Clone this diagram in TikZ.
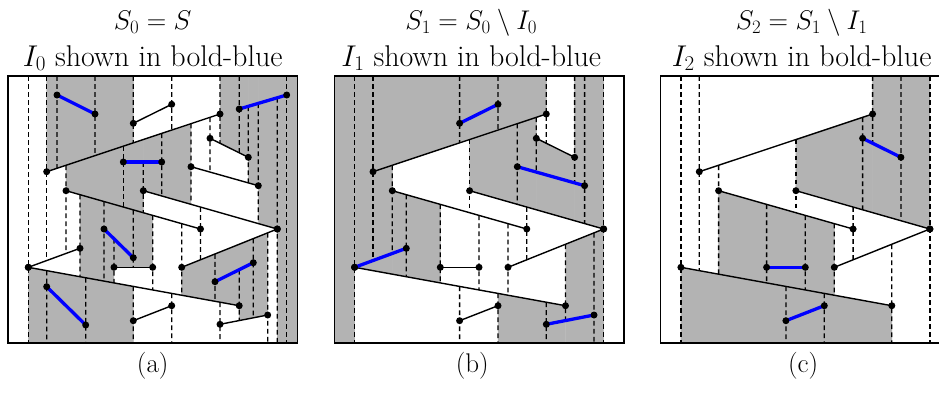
\RequirePackage{fix-cm}
\documentclass[tikz,border=0pt]{standalone}
\definecolor{shadegray}{RGB}{179,179,179}
\definecolor{segblue}{RGB}{0,0,255}
\tikzset{
 segline/.style={line width=1.4pt, black},
 blueline/.style={line width=3.3pt, segblue},
 wallline/.style={line width=1.3pt, black, dash pattern=on 4.8pt off 3.2pt},
 boxline/.style={line width=1.6pt, black},
 shadefill/.style={fill=shadegray, draw=shadegray, line width=0.4pt},
 lbl/.style={font=\fontsize{27}{32}\selectfont, anchor=base, inner sep=0pt},
 lblwide/.style={font=\fontsize{30}{36}\selectfont, anchor=base, inner sep=0pt},
}
\newcommand\defpts[1]{%
 \coordinate (#1A1l) at (57,95);      \coordinate (#1A1r) at (95,114);
 \coordinate (#1A2l) at (133.3,123.3); \coordinate (#1A2r) at (171.7,104.3);
 \coordinate (#1A3l) at (239.2,109);   \coordinate (#1A3r) at (286.7,95);
 \coordinate (#1A4l) at (46.7,171.7);  \coordinate (#1A4r) at (220,114);
 \coordinate (#1A5l) at (123.3,162);   \coordinate (#1A5r) at (161.7,162);
 \coordinate (#1A6l) at (210,138.3);   \coordinate (#1A6r) at (248.3,157.3);
 \coordinate (#1A7l) at (191,166.7);   \coordinate (#1A7r) at (258.3,185.7);
 \coordinate (#1A8l) at (66,190.7);    \coordinate (#1A8r) at (200.5,229);
 \coordinate (#1A9l) at (143.3,190.7); \coordinate (#1A9r) at (277.3,229);
 \coordinate (#1A10l) at (104,229);    \coordinate (#1A10r) at (133.3,257.7);
 \coordinate (#1A11l) at (114,267.3);  \coordinate (#1A11r) at (152.7,267.3);
 \coordinate (#1A12l) at (28.3,267.3); \coordinate (#1A12r) at (80,248.3);
 \coordinate (#1A13l) at (28.3,267.3); \coordinate (#1A13r) at (239.2,305.7);
 \coordinate (#1A14l) at (181.7,267.3); \coordinate (#1A14r) at (277.3,229);
 \coordinate (#1A15l) at (215,281.7);  \coordinate (#1A15r) at (253.3,262.7);
 \coordinate (#1A16l) at (46.7,286.7); \coordinate (#1A16r) at (85.7,325);
 \coordinate (#1A17l) at (133.3,320.7); \coordinate (#1A17r) at (171.7,305.7);
 \coordinate (#1A18l) at (220,324.3);  \coordinate (#1A18r) at (267.7,315);
 \coordinate (#1Tl) at (0,76);  \coordinate (#1Tr) at (300,76);
 \coordinate (#1Bl) at (0,343); \coordinate (#1Br) at (300,343);
}
\newcommand\trap[5]{%
 \fill[shadefill] (intersection of #1#4l--#1#4r and #2,0--#2,1)
  -- (intersection of #1#4l--#1#4r and #3,0--#3,1)
  -- (intersection of #1#5l--#1#5r and #3,0--#3,1)
  -- (intersection of #1#5l--#1#5r and #2,0--#2,1) -- cycle;}
\newcommand\wall[4]{%
 \draw[wallline] (intersection of #1#3l--#1#3r and #2,0--#2,1)
  -- (intersection of #1#4l--#1#4r and #2,0--#2,1);}
\newcommand\seg[2]{\draw[segline] (#1#2l) -- (#1#2r);
 \fill (#1#2l) circle (3.5) (#1#2r) circle (3.5);}
\newcommand\bseg[2]{\draw[blueline] (#1#2l) -- (#1#2r);
 \fill (#1#2l) circle (3.5) (#1#2r) circle (3.5);}
\begin{document}
\begin{tikzpicture}[x=1pt,y=-1pt]
\useasboundingbox (0,0) rectangle (939,394);
% ---------------- panel (a)
\begin{scope}
\defpts{a}
\trap{a}{46.7}{133.3}{T}{A4}
\trap{a}{220}{248.3}{T}{A6}
\trap{a}{248.3}{258.3}{T}{A7}
\trap{a}{258.3}{277.3}{T}{A9}
\trap{a}{277.3}{297.5}{T}{B}
\trap{a}{66}{143.3}{A4}{A8}
\trap{a}{143.3}{191}{A4}{A9}
\trap{a}{80}{114}{A8}{A13}
\trap{a}{114}{152.7}{A8}{A11}
\trap{a}{181.7}{239.2}{A14}{A13}
\trap{a}{239.2}{267.7}{A14}{A18}
\trap{a}{28.3}{133.3}{A13}{B}
\wall{a}{28.3}{T}{B}
\wall{a}{46.7}{T}{A12} \wall{a}{46.7}{A13}{B}
\wall{a}{57}{T}{A4}
\wall{a}{66}{A4}{A12}
\wall{a}{80}{A8}{A13}
\wall{a}{85.7}{A13}{B}
\wall{a}{95}{T}{A4}
\wall{a}{104}{A8}{A13}
\wall{a}{114}{A10}{A13}
\wall{a}{123.3}{A4}{A8}
\wall{a}{133.3}{T}{A4} \wall{a}{133.3}{A8}{A11} \wall{a}{133.3}{A13}{B}
\wall{a}{143.3}{A5}{A8}
\wall{a}{152.7}{A8}{A13}
\wall{a}{161.7}{A4}{A9}
\wall{a}{171.7}{T}{A4} \wall{a}{171.7}{A13}{B}
\wall{a}{181.7}{A8}{A13}
\wall{a}{191}{A4}{A9}
\wall{a}{200.5}{A9}{A14}
\wall{a}{210}{A4}{A7}
\wall{a}{215}{A14}{A13}
\wall{a}{220}{T}{A6} \wall{a}{220}{A13}{B}
\wall{a}{239.2}{T}{A6} \wall{a}{239.2}{A15}{A18}
\wall{a}{248.3}{A3}{A7}
\wall{a}{253.3}{A14}{A18}
\wall{a}{258.3}{A3}{A9}
\wall{a}{267.7}{A14}{B}
\wall{a}{277.3}{A3}{B}
\wall{a}{286.7}{T}{B}
\seg{a}{A2} \seg{a}{A4} \seg{a}{A6} \seg{a}{A7} \seg{a}{A8} \seg{a}{A9}
\seg{a}{A11} \seg{a}{A12} \seg{a}{A13} \seg{a}{A14} \seg{a}{A17} \seg{a}{A18}
\bseg{a}{A1} \bseg{a}{A3} \bseg{a}{A5} \bseg{a}{A10} \bseg{a}{A15} \bseg{a}{A16}
\draw[boxline] (8,76) rectangle (297.5,343);
\node[lbl] (ta1) at (152.7,29) {$S_0 = S$};
\node[lblwide] (ta2) at (152.7,66) {$I_0$ shown in bold-blue};
\node[lbl] (ta3) at (152.7,372) {(a)};
\end{scope}
% ---------------- panel (b)
\begin{scope}[shift={(326.3,0)}]
\defpts{b}
\trap{b}{8}{28.3}{T}{B}
\trap{b}{28.3}{46.7}{T}{A13}
\trap{b}{46.7}{66}{A4}{A13}
\trap{b}{66}{114}{A8}{A13}
\trap{b}{46.7}{220}{T}{A4}
\trap{b}{143.3}{210}{A4}{A9}
\trap{b}{210}{248.3}{A6}{A9}
\trap{b}{248.3}{277.3}{T}{A9}
\trap{b}{171.7}{239.2}{A13}{B}
\trap{b}{239.2}{277.3}{A14}{B}
\wall{b}{28.3}{T}{B}
\wall{b}{46.7}{T}{A12}
\wall{b}{66}{A4}{A12}
\wall{b}{80}{A8}{A13}
\wall{b}{114}{A8}{A13}
\wall{b}{133.3}{T}{A4} \wall{b}{133.3}{A13}{B}
\wall{b}{143.3}{A4}{A8}
\wall{b}{152.7}{A8}{A13}
\wall{b}{171.7}{T}{A4} \wall{b}{171.7}{A13}{B}
\wall{b}{181.7}{A8}{A13}
\wall{b}{191}{A4}{A9}
\wall{b}{200.5}{A9}{A14}
\wall{b}{210}{A4}{A7}
\wall{b}{220}{T}{A6} \wall{b}{220}{A13}{B}
\wall{b}{239.2}{A14}{A18}
\wall{b}{248.3}{T}{A7}
\wall{b}{258.3}{T}{A9}
\wall{b}{267.7}{A14}{B}
\wall{b}{277.3}{T}{B}
\seg{b}{A4} \seg{b}{A6} \seg{b}{A8} \seg{b}{A9} \seg{b}{A11} \seg{b}{A13}
\seg{b}{A14} \seg{b}{A17}
\bseg{b}{A2} \bseg{b}{A7} \bseg{b}{A12} \bseg{b}{A18}
\draw[boxline] (8,76) rectangle (297.5,343);
\node[lbl] (tb1) at (145,29) {$S_1 = S_0 \setminus I_0$};
\node[lblwide] (tb2) at (145,66) {$I_1$ shown in bold-blue};
\node[lbl] (tb3) at (146,372) {(b)};
\end{scope}
% ---------------- panel (c)
\begin{scope}[shift={(652.6,0)}]
\defpts{c}
\trap{c}{28.3}{239.2}{A13}{B}
\trap{c}{66}{181.7}{A8}{A13}
\trap{c}{143.3}{220}{A4}{A9}
\trap{c}{220}{277.3}{T}{A9}
\wall{c}{28.3}{T}{B}
\wall{c}{46.7}{T}{A13}
\wall{c}{66}{A4}{A13}
\wall{c}{114}{A8}{A13}
\wall{c}{133.3}{A13}{B}
\wall{c}{143.3}{A4}{A8}
\wall{c}{152.7}{A8}{A13}
\wall{c}{171.7}{A13}{B}
\wall{c}{181.7}{A8}{A13}
\wall{c}{200.5}{A9}{A14}
\wall{c}{210}{A4}{A9}
\wall{c}{220}{T}{A6}
\wall{c}{239.2}{A14}{B}
\wall{c}{248.3}{T}{A9}
\wall{c}{277.3}{T}{B}
\seg{c}{A4} \seg{c}{A8} \seg{c}{A9} \seg{c}{A13} \seg{c}{A14}
\bseg{c}{A6} \bseg{c}{A11} \bseg{c}{A17}
\draw[boxline] (8,76) rectangle (297.5,343);
\node[lbl] (tc1) at (149,29) {$S_2 = S_1 \setminus I_1$};
\node[lblwide] (tc2) at (149,66) {$I_2$ shown in bold-blue};
\node[lbl] (tc3) at (150.5,372) {(c)};
\end{scope}
\end{tikzpicture}
\end{document}
